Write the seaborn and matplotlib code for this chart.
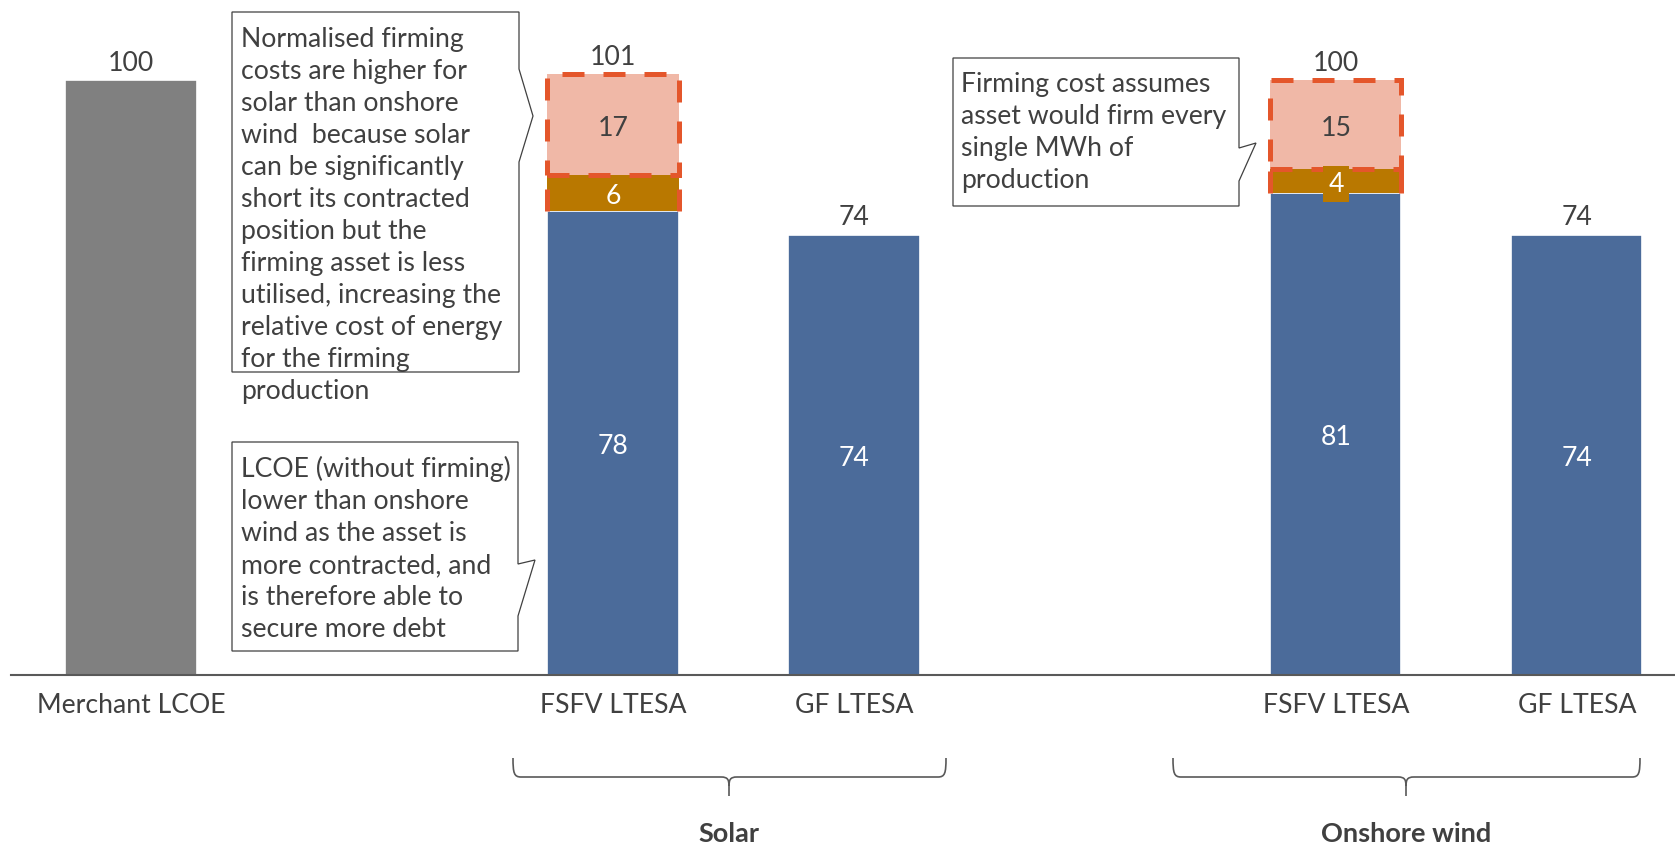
import matplotlib
matplotlib.use("Agg")
import matplotlib.pyplot as plt
from matplotlib.patches import Polygon, Rectangle, PathPatch
from matplotlib.path import Path
import seaborn as sns
import pandas as pd

# ---- data ----
categories = ["Merchant LCOE", "FSFV LTESA", "GF LTESA", "FSFV LTESA", "GF LTESA"]
slots = [0, 2, 3, 5, 6]
kinds = ["Merchant", "LTESA", "LTESA", "LTESA", "LTESA"]
lcoe = [100, 78, 74, 81, 74]
firming_asset = [0, 6, 0, 4, 0]
firming_cost = [0, 17, 0, 15, 0]
group_names = ["Solar", "Onshore wind"]

note_firming = ["Normalised firming", "costs are higher for", "solar than onshore",
                "wind  because solar", "can be significantly", "short its contracted",
                "position but the", "firming asset is less", "utilised, increasing the",
                "relative cost of energy", "for the firming", "production"]
note_lcoe = ["LCOE (without firming)", "lower than onshore", "wind as the asset is",
             "more contracted, and", "is therefore able to", "secure more debt"]
note_wind = ["Firming cost assumes", "asset would firm every", "single MWh of", "production"]

# ---- style ----
GRAY = "#808080"
BLUE = "#4B6B9A"
GOLD = "#B97800"
PINK = "#F0B8A7"
RED = "#E4562B"
TXT = "#404040"
FS = 19.2
BW = 0.544

sns.set_theme(style="white")
plt.rcParams["font.family"] = ["Lato", "DejaVu Sans"]

W, H, DPI = 1675, 845, 100
fig = plt.figure(figsize=(W / DPI, H / DPI), dpi=DPI)


def fpx(x, y):
    """Pixel position (from top-left) to figure fraction."""
    return x / W, 1 - y / H


ax = fig.add_axes([11 / W, 169 / H, 1 - 11 / W, 654 / H])

df = pd.DataFrame({"slot": slots, "kind": kinds, "lcoe": lcoe,
                   "asset": firming_asset, "cost": firming_cost})
df["asset_base"] = df["lcoe"]
df["cost_base"] = df["lcoe"] + df["asset"]
df["total"] = df["cost_base"] + df["cost"]

common = dict(native_scale=True, width=BW, errorbar=None, saturation=1, ax=ax)
sns.barplot(data=df, x="slot", y="lcoe", hue="kind",
            palette={"Merchant": GRAY, "LTESA": BLUE}, dodge=False, legend=False,
            edgecolor="white", linewidth=1.2, **common)
sns.barplot(data=df, x="slot", y="asset", bottom=df["asset_base"].to_numpy(),
            color=GOLD, linewidth=0, **common)
sns.barplot(data=df, x="slot", y="cost", bottom=df["cost_base"].to_numpy(),
            color=PINK, linewidth=0, **common)

dash = (0, (4.4, 3.8))
for _, r in df[df["cost"] > 0].iterrows():
    ax.add_patch(Rectangle((r.slot - BW / 2, r.cost_base), BW, r.cost, fill=False,
                           edgecolor=RED, linewidth=3.6, linestyle=dash, zorder=5))
    ax.vlines([r.slot - BW / 2, r.slot + BW / 2], r.lcoe, r.cost_base,
              colors=RED, linewidth=3.6, linestyles=dash, zorder=5)

# value labels
for _, r in df.iterrows():
    if r.kind == "LTESA":
        ax.text(r.slot, r.lcoe / 2, f"{r.lcoe}", ha="center", va="center_baseline",
                color="white", fontsize=FS, zorder=6)
    if r.asset > 0:
        box = dict(boxstyle="square,pad=0.2", fc=GOLD, ec="none") if r.asset < 5 else None
        ax.text(r.slot, r.asset_base + r.asset / 2, f"{r.asset}", ha="center",
                va="center_baseline", color="white", fontsize=FS, bbox=box, zorder=6)
    if r.cost > 0:
        ax.text(r.slot, r.cost_base + r.cost / 2, f"{r.cost}", ha="center",
                va="center_baseline", color=TXT, fontsize=FS, zorder=6)
    ax.annotate(f"{r.total}", (r.slot, r.total), xytext=(0, 4),
                textcoords="offset points", ha="center", va="bottom",
                color=TXT, fontsize=FS)

ax.set_xlim(-0.498, 6.407)
ax.set_ylim(0, 654 / 5.948)
ax.set_xticks(slots, categories)
ax.set_yticks([])
ax.set_xlabel("")
ax.set_ylabel("")
ax.tick_params(axis="x", length=0, pad=12, labelsize=FS, labelcolor=TXT)
for s in ["left", "top", "right"]:
    ax.spines[s].set_visible(False)
ax.spines["bottom"].set_color("#595959")
ax.spines["bottom"].set_linewidth(1.5)
ax.set_facecolor("none")


# callout boxes
def callout(points, lines, tx, ty0, step=32):
    poly = Polygon([fpx(x, y) for x, y in points], closed=True,
                   transform=fig.transFigure, facecolor="white",
                   edgecolor=TXT, linewidth=0.9, zorder=3)
    fig.patches.append(poly)
    for i, line in enumerate(lines):
        fig.text(*fpx(tx, ty0 + i * step), line, ha="left", va="baseline",
                 color=TXT, fontsize=FS, zorder=4)


callout([(232, 13), (519, 13), (519, 70), (533, 117), (519, 163), (519, 373), (232, 373)],
        note_firming, 241, 47)
callout([(232, 443), (518, 443), (518, 565), (535, 561), (518, 617), (518, 652), (232, 652)],
        note_lcoe, 241, 477)
callout([(953, 59), (1239, 59), (1239, 149), (1256, 144), (1239, 182), (1239, 207), (953, 207)],
        note_wind, 961, 92)


# group braces
def brace(x0, x1, xc, label, top=759, mid=778, tip=797):
    r = 8
    verts = [fpx(x0, top),
             fpx(x0, mid - 4), fpx(x0 + 1, mid), fpx(x0 + r, mid),
             fpx(xc - r, mid),
             fpx(xc - 1, mid), fpx(xc, mid + 3), fpx(xc, mid + 9),
             fpx(xc, tip),
             fpx(xc, mid + 9),
             fpx(xc, mid + 3), fpx(xc + 1, mid), fpx(xc + r, mid),
             fpx(x1 - r, mid),
             fpx(x1 - 1, mid), fpx(x1, mid - 4), fpx(x1, top)]
    codes = [Path.MOVETO,
             Path.CURVE4, Path.CURVE4, Path.CURVE4,
             Path.LINETO,
             Path.CURVE4, Path.CURVE4, Path.CURVE4,
             Path.LINETO,
             Path.MOVETO,
             Path.CURVE4, Path.CURVE4, Path.CURVE4,
             Path.LINETO,
             Path.CURVE4, Path.CURVE4, Path.CURVE4]
    fig.patches.append(PathPatch(Path(verts, codes), transform=fig.transFigure,
                                 fill=False, edgecolor="#595959", linewidth=1.2))
    fig.text(*fpx(xc, 842), label, ha="center", va="baseline", color=TXT,
             fontsize=FS + 0.3, fontweight="bold")


brace(513, 946, 729, group_names[0])
brace(1173, 1640, 1406, group_names[1])

fig.savefig("out.png", dpi=DPI, facecolor="white")
